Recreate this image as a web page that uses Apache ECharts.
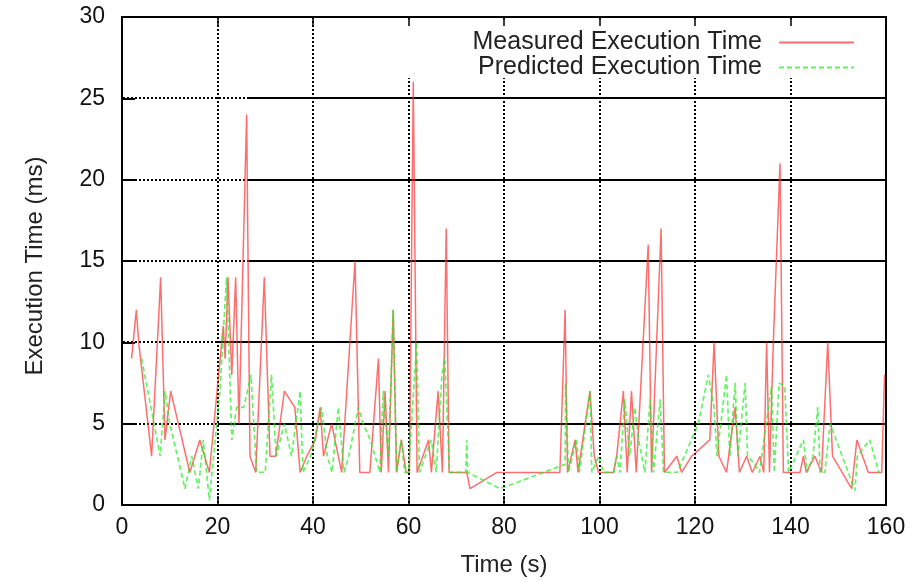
<!DOCTYPE html>
<html>
<head>
<meta charset="utf-8">
<script src="https://cdn.jsdelivr.net/npm/echarts@6/dist/echarts.min.js"></script>
<style>
  html, body { margin: 0; padding: 0; background: #ffffff; }
  #chart { width: 912px; height: 582px; }
</style>
</head>
<body>
<div id="chart"></div>
<script>
// Measured execution time samples (time in s, value in ms)
const measuredTime = [2.0, 3.0, 3.5, 6.2, 8.1, 9.0, 10.2, 14.2, 16.3, 18.3, 21.2, 21.6, 22.2, 23.0, 23.8, 24.5, 26.1, 26.8, 28.0, 29.8,
  31.0, 32.2, 34.0, 36.2, 37.3, 38.7, 40.5, 41.5, 42.2, 43.9, 46.0, 48.8, 49.8, 51.9, 53.7, 54.3, 55.1, 55.8, 56.8, 57.5,
  58.5, 59.5, 60.2, 61.0, 61.8, 63.0, 64.2, 64.8, 66.2, 67.1, 67.9, 68.5, 72.2, 72.9, 78.5, 91.7, 92.8, 93.3, 94.9, 95.5,
  97.0, 98.0, 98.9, 99.8, 102.9, 103.6, 105.0, 105.8, 106.7, 107.7, 110.2, 110.9, 112.9, 113.6, 116.2, 117.2, 119.3, 123.1, 124.0, 125.0,
  126.6, 128.4, 129.3, 130.8, 132.0, 133.6, 134.4, 135.0, 135.6, 136.4, 137.8, 138.5, 142.0, 142.7, 143.3, 145.1, 146.5, 147.8, 148.8, 152.8,
  153.9, 156.3, 159.1, 159.7];
const measuredMs = [9, 12, 10, 3, 14, 4, 7, 2, 4, 2, 11, 9, 14, 8, 14, 5, 24, 3, 2, 14,
  3, 3, 7, 6, 2, 3, 4, 6, 3, 5, 2, 15, 2, 2, 9, 2, 7, 2, 12, 2,
  4, 2, 2, 26, 2, 3, 4, 2, 7, 2, 17, 2, 2, 1, 2, 2, 12, 2, 4, 2,
  5, 7, 3, 2, 2, 3, 7, 2, 7, 2, 16, 2, 17, 2, 3, 2, 3, 4, 10, 3,
  2, 6, 2, 3, 2, 3, 2, 10, 2, 10, 21, 2, 2, 3, 2, 3, 2, 10, 3, 1,
  4, 2, 2, 8];

// Predicted execution time samples
const predictedTime = [4.1, 8.0, 9.0, 10.0, 13.2, 14.6, 16.0, 17.0, 18.3, 20.5, 21.9, 23.0, 24.0, 25.5, 27.0, 28.2, 30.0, 31.3, 32.3, 34.0,
  35.5, 37.3, 37.9, 39.5, 41.8, 43.0, 44.0, 45.3, 46.5, 47.5, 49.5, 50.5, 52.0, 53.0, 54.0, 54.7, 55.8, 56.8, 57.5, 58.5,
  59.2, 60.0, 61.7, 62.3, 63.5, 64.8, 65.8, 67.0, 67.6, 68.6, 72.0, 72.2, 72.4, 79.2, 92.8, 92.9, 93.5, 95.2, 95.8, 98.0,
  98.4, 99.8, 100.8, 103.0, 103.6, 104.3, 105.3, 106.3, 107.4, 108.2, 109.5, 110.6, 111.3, 112.7, 113.4, 116.3, 120.7, 122.8, 124.0, 124.6,
  126.6, 127.3, 128.4, 129.0, 130.5, 131.0, 132.5, 133.5, 136.0, 136.6, 137.6, 138.8, 139.6, 142.7, 143.5, 144.7, 145.7, 146.2, 147.2, 148.3,
  153.5, 154.0, 156.6, 158.5];
const predictedMs = [9, 3, 7, 5, 1, 3, 1, 4, 0.3, 7, 14, 4, 6, 6, 8, 2, 2, 8, 3, 5,
  3, 7, 2, 3, 6, 3, 2, 6, 2, 3, 6, 5, 4, 3, 2, 7, 3, 12, 2, 4,
  2, 2, 10, 2, 3, 4, 2, 8, 9, 2, 2, 4, 2, 1, 2.5, 7.5, 2, 4, 2, 7,
  2, 3, 2, 2, 3, 2, 6.5, 3, 6, 4, 2, 6.5, 2, 6.5, 2, 2, 5, 8, 6, 3,
  8, 3, 7.5, 3, 7.5, 3, 2.5, 2, 7.3, 2, 7.5, 7.3, 2, 4, 2, 3, 6, 2, 2, 5,
  0.9, 3, 4, 2];

const seriesNames = ['Measured Execution Time', 'Predicted Execution Time'];
const xTitle = 'Time (s)';
const yTitle = 'Execution Time (ms)';

const zip = (xs, ys) => xs.map((x, i) => [x, ys[i]]);

const FONT = "'Liberation Sans', Arial, sans-serif";
const INK = '#111';

// Plot frame geometry
const G = { left: 122, top: 17, right: 26, bottom: 77 };
const H = 582 - G.top - G.bottom;
const yPix = v => Math.round(582 - G.bottom - v / 30 * H);
const plotRight = 912 - G.right - 1;

// Horizontal rules: dotted near the left edge, solid for the rest of the width
const ruleSplits = [
  { v: 25, from: 247 }, { v: 20, from: 247 }, { v: 15, from: 247 },
  { v: 10, from: 218 }, { v: 5, from: 218 }
];
const horizontalRules = [];
ruleSplits.forEach(r => {
  const y = yPix(r.v);
  horizontalRules.push({
    type: 'line', z: 1, silent: true,
    shape: { x1: G.left + 1, y1: y, x2: r.from, y2: y },
    style: { stroke: '#000', lineWidth: 2, lineDash: [2, 2] }
  });
  horizontalRules.push({
    type: 'line', z: 1, silent: true,
    shape: { x1: r.from, y1: y, x2: plotRight, y2: y },
    style: { stroke: '#000', lineWidth: 2 }
  });
});

const chart = echarts.init(document.getElementById('chart'), null, { renderer: 'canvas' });

const legendBase = {
  right: 57, z: 10, align: 'right',
  itemWidth: 75, itemHeight: 14, padding: 0,
  itemStyle: { opacity: 0 },
  textStyle: { fontSize: 25, color: '#222', fontFamily: FONT, padding: [0, 12, 0, 0] }
};

chart.setOption({
  backgroundColor: '#ffffff',
  animation: false,
  textStyle: { fontFamily: FONT },
  grid: { left: G.left, top: G.top, right: G.right, bottom: G.bottom, show: true, borderColor: '#000', borderWidth: 2, backgroundColor: 'transparent' },
  xAxis: [
    {
      type: 'value', min: 0, max: 160, interval: 20,
      name: xTitle, nameLocation: 'middle', nameGap: 48,
      nameTextStyle: { fontSize: 24, color: '#222', fontFamily: FONT },
      axisLine: { show: true, lineStyle: { color: '#000', width: 2 } },
      axisTick: { show: true, inside: true, length: 9, lineStyle: { color: '#000', width: 1.5 } },
      axisLabel: { fontSize: 23, color: INK, margin: 11, fontFamily: FONT },
      splitLine: { show: true, lineStyle: { color: '#000', width: 2, type: [2, 2] } }
    },
    {
      type: 'value', position: 'top', min: 0, max: 160, interval: 20, z: 12,
      axisLine: { show: false },
      axisTick: { show: true, inside: true, length: 9, lineStyle: { color: '#000', width: 1.5 } },
      axisLabel: { show: false }, splitLine: { show: false }
    }
  ],
  yAxis: {
    type: 'value', min: 0, max: 30, interval: 5,
    name: yTitle, nameLocation: 'middle', nameGap: 75, nameRotate: 90,
    nameTextStyle: { fontSize: 24, color: '#222', fontFamily: FONT, padding: [0, 10, 0, 0] },
    axisLine: { show: true, lineStyle: { color: '#000', width: 2 } },
    axisTick: { show: true, inside: true, length: 13, lineStyle: { color: '#000', width: 2 } },
    axisLabel: { fontSize: 23, color: INK, margin: 17, fontFamily: FONT },
    splitLine: { show: false }
  },
  graphic: horizontalRules.concat([
    {
      type: 'rect', z: 5, silent: true,
      shape: { x: 400, y: 19, width: 484, height: 59 },
      style: { fill: '#ffffff' }
    }
  ]),
  legend: [
    Object.assign({ data: [seriesNames[0]], top: 30 }, legendBase),
    Object.assign({ data: [seriesNames[1]], top: 55 }, legendBase)
  ],
  series: [
    {
      name: seriesNames[0], type: 'line', xAxisIndex: 0, yAxisIndex: 0,
      data: zip(measuredTime, measuredMs),
      symbol: 'none', smooth: false, z: 3,
      color: '#ff5050',
      lineStyle: { color: '#ff3030', width: 1.5, opacity: 0.7 }
    },
    {
      name: seriesNames[1], type: 'line', xAxisIndex: 0, yAxisIndex: 0,
      data: zip(predictedTime, predictedMs),
      symbol: 'none', smooth: false, z: 4,
      color: '#44ee44',
      lineStyle: { color: '#22ee22', width: 1.7, opacity: 0.7, type: [5, 3] }
    }
  ]
});
</script>
</body>
</html>
